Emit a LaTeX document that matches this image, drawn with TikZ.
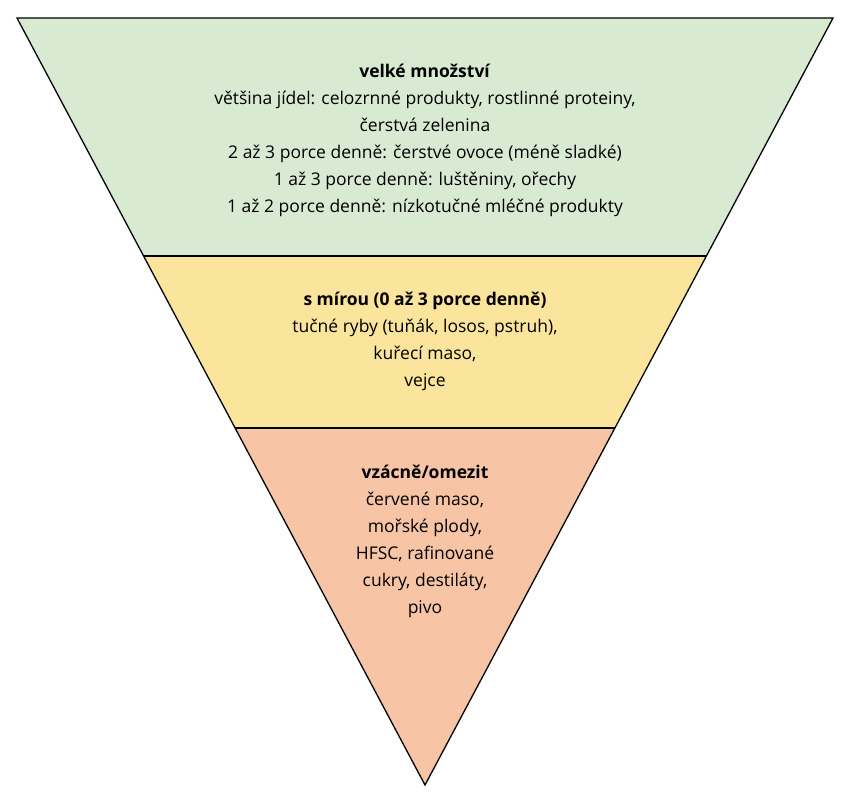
\documentclass[tikz,border=0pt]{standalone}
\usepackage{fontspec}
\setmainfont{Open Sans}
\definecolor{tiergreen}{HTML}{D9EAD3}
\definecolor{tieryellow}{HTML}{FBE49B}
\definecolor{tierorange}{HTML}{F7C4A5}
\tikzset{
  tier/.style={draw=black, line width=1.3pt, line join=miter},
  tiertext/.style={align=center, font=\fontsize{17.5}{27}\selectfont}
}
\begin{document}
\begin{tikzpicture}[x=1pt,y=-1pt]
  \useasboundingbox (0,0) rectangle (854,800);
  % tiers
  \fill[tiergreen] (17,18) -- (833,18) -- (706,256) -- (144,256) -- cycle;
  \fill[tieryellow] (144,256) -- (706,256) -- (615,428) -- (235,428) -- cycle;
  \fill[tierorange] (235,428) -- (615,428) -- (425,785) -- cycle;
  \draw[tier] (17,18) -- (833,18) -- (425,785) -- cycle;
  \draw[tier] (144,256) -- (706,256);
  \draw[tier] (235,428) -- (615,428);

  % labels
  \node[tiertext] (lots) at (425,140) {\textbf{velké množství}\\
    většina jídel: celozrnné produkty, rostlinné proteiny,\\
    čerstvá zelenina\\
    2 až 3 porce denně: čerstvé ovoce (méně sladké)\\
    1 až 3 porce denně: luštěniny, ořechy\\
    1 až 2 porce denně: nízkotučné mléčné produkty};
  \node[tiertext] (some) at (425,341) {\textbf{s mírou (0 až 3 porce denně)}\\
    tučné ryby (tuňák, losos, pstruh),\\
    kuřecí maso,\\
    vejce};
  \node[tiertext] (rare) at (425,541) {\textbf{vzácně/omezit}\\
    červené maso,\\
    mořské plody,\\
    HFSC, rafinované\\
    cukry, destiláty,\\
    pivo};
\end{tikzpicture}
\end{document}
